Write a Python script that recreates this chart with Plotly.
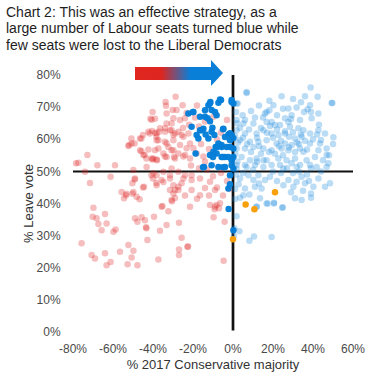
import base64
import plotly.graph_objects as go

# ---------------- data ----------------
TITLE_LINES = [
    "Chart 2: This was an effective strategy, as a",
    "large number of Labour seats turned blue while",
    "few seats were lost to the Liberal Democrats",
]
X_TITLE = "% 2017 Conservative majority"
Y_TITLE = "% Leave vote"
X_TICKS = [-80, -60, -40, -20, 0, 20, 40, 60]
X_TICK_LABELS = ["-80%", "-60%", "-40%", "-20%", "0%", "20%", "40%", "60%"]
Y_TICKS = [0, 10, 20, 30, 40, 50, 60, 70, 80]
Y_TICK_LABELS = ["0%", "10%", "20%", "30%", "40%", "50%", "60%", "70%", "80%"]
LEAVE_SPLIT = 50
MAJORITY_SPLIT = 0

# Labour-held seats (faint red)
lab_x = [-28.7, -33.7, -33.5, -30.2, -40.2, -25.2, -29.8, -40.7, -33.2, -42.3, -39, -34, -30.7, -29, -25.7,
         -46.5, -50.7, -52.3, -38.2, -34, -29.8, -26.5, -46.5, -42.3, -37.3, -32.3, -29.8, -44.8, -40.7, -38.2,
         -33.2, -29.5, -24, -72.8, -77.3, -78.5, -67.8, -59, -49.8, -43.2, -39.8, -34.8, -30.7, -27.3, -74,
         -61.2, -49, -71.5, -44.5, -55.7, -53.5, -49.8, -48.2, -38.2, -35.7, -31.5, -31.5, -29.8, -27.3, -25.7,
         -24, -35.7, -30.7, -29, -69.8,
         -70.2, -68.2, -64, -67.3, -63.2, -65.7, -59.8, -58.7, -75.7, -70.7, -69, -64, -61.2, -63.2, -56.5,
         -52.3, -49.8, -50.7, -52.7, -47.8, -49, -47.8, -45.7, -44, -43.5, -43.3, -39.5, -42.8, -36.5, -33.2,
         -35.3, -32.3, -37.3, -30.5, -27, -25.7, -27, -27, -22.8, -22.5, -8.3, -9.2, -7, -9.7, -4.2, -4.7, -9.0,
         -33.2, -28.2, -23.2, -39, -30.7, -26.5, -40.5, -38.2, -36.5, -34, -31.5, -29.8, -27.3, -24.8, -22.3,
         -37.3, -33.2, -23.2, -39, -34.8, -30.7, -27.3, -21.5, -19.8, -18.2, -39.8, -34, -29, -24.8, -21.5,
         -14.8, -14, -38.2, -31.5, -24.8, -20.7, -16.5, -34.8, -29.8, -27.3, -29, -20.7, -16.5, -11.5, -9,
         -6.5, -21.5, -11.5, -9.8, -20.7,
         -41.3, -37, -38.3, -41.7, -45, -50.8, -45.8, -49.2, -52, -45.8, -44.2, -43.3, -40.3, -38, -49.2,
         -50.3, -45, -53.3, -50.3, -54.5, -46.7, -40, -40.8, -38.3,
         -18, -14, -17, -8, -12, -6, -3, -16, -22, -19, -24, -25, -21, -17, -13, -10, -6, -3, -8, -14, -12,
         -18, -24, -5, -2]
lab_y = [73.2, 71.6, 70.4, 69.1, 68.5, 70.6, 66.5, 66.1, 64.9, 62.3, 62, 63.4, 62.8, 61.8, 61.3,
         60.2, 58.7, 57.9, 59.7, 59.2, 59.7, 58.2, 56.6, 56.8, 57.1, 57.6, 56.6, 55.1, 54.0, 53.7,
         54.5, 54.5, 55.1, 55.1, 52.7, 52.5, 51.9, 51.9, 50.4, 51.4, 49.4, 49.9, 50.9, 49.9, 49.9,
         48.3, 47.8, 46.4, 45.2, 43.6, 42.6, 43.6, 42.1, 45.7, 47.3, 47.8, 44.2, 43.1, 44.2, 46.3,
         48.8, 39, 41.1, 41.7, 38.7,
         35.9, 35.4, 36.7, 33.6, 33.8, 31.7, 31.2, 31.9, 27.6, 24, 22.9, 24.5, 21.8, 20.8, 25,
         27.1, 25.3, 23.2, 21.1, 20.8, 35.4, 34.3, 35.7, 34.8, 32.6, 32.3, 35.9, 28.6, 31.5, 33.3,
         39.2, 37.6, 22.6, 40.7, 34, 29.3, 25.7, 24, 26.5, 26.6, 39.5, 38.2, 38.5, 35.7, 34.3, 22.2, 39.0,
         68.0, 69.1, 68.2, 66.4, 64.9, 66.0, 62.6, 61.8, 63.4, 62.3, 62.8, 61.3, 62.3, 60.8, 61.8,
         59.7, 58.7, 57.2, 56.6, 55.6, 56.6, 55.6, 58.7, 57.2, 55.6, 54, 54.6, 54, 54.6, 54,
         54.6, 53, 48.8, 48.8, 47.8, 47.3, 47.8, 46.7, 45.7, 45.2, 44.2, 44.2, 42.6, 46.8, 44.2,
         40.1, 39.0, 39.5, 67, 48.8,
         66.4, 62.3, 60.8, 61.8, 61.3, 60.2, 60.2, 58.7, 58.2, 56.3, 55.1, 54, 53.7, 53.5, 47.5,
         46.3, 45, 43, 43, 41.6, 41.3, 47.8, 48.8, 46.4,
         70.5, 65.5, 64, 60, 57, 62, 66, 58.5, 64.5, 66.8, 66.5, 63.5, 51.8, 51, 50.5, 48.5, 49.5, 47, 45, 44.8, 42.5,
         41.5, 42.5, 42.5, 44.5]

# Conservative-held seats (faint blue)
con_x = [38.8, 24.3, 36, 42.3, 6.8, 49.7, 18.2, 20.2, 27.7, 31.8, 38.5, 37.3, 35.5, 42.7, 1.8, 4.8, 16.8, 16,
         18.2, 11, 29.3, 26, 33.5, 39.3, 1.8, 5.2, 10.2, 16.8, 19.3, 18.5, 21, 23.5, 27.7, 28.5, 32.7, 35.2,
         38.5, 42.7, 46, 50.2, 1.8, 6, 11.8, 15.2, 19.3, 22.7, 26, 31, 34.3, 3.5, 8.5, 12.7, 16.8, 21.8, 26,
         29.3, 38.5, 43.5, 1.8, 6, 10.2, 15.2, 19.3, 24.3, 27.7, 33.5, 35.2, 42.7, 46.8, 46.8, 4.3, 8.5, 11.8,
         16.8, 22.7, 26.8, 31, 36.8, 41, 1.8, 6, 11, 19.3, 23.5, 29.3, 33.5, 38.5, 47.7, 15.2,
         1.8, 6.8, 15.2, 25.2, 31.8, 41.8, 46.8, 3.5, 7.7, 10.2, 12.7, 16, 18.5, 6, 11, 14.3, 25.2, 27.7, 30.2,
         31.8, 34.3, 36, 40.2, 42.7, 46, 48.5, 31, 34.3, 39, 39, 5.2, 3.5, 1, 8.2, 13.5, 16.8, 20.5, 24.7, 11.8,
         3.2, 10.5, 8.2, 19.3, 0.5, 6.8, 2.3, 49.3, 17.3, 20.5, 24.8, 11.8, 0.7,
         1.5, 2, 1, 2.5, 1.2, 2.2, 1.5, 2.8, 1, 1.8,
         14, 17, 20, 22, 24, 26, 28, 30, 32, 34, 36, 13, 18, 21, 23, 25, 28, 31, 33, 37, 40, 42, 44, 12, 14,
         9, 7, 5, 3.5, 8, 12, 27, 30, 33, 37, 39, 44, 20, 10, 5, 13, 22, 24, 35, 38, 29, 45, 48, 50, 43, 39,
         34, 30, 13, 9, 22, 25, 29, 6, 15]
con_y = [76.1, 73.4, 73.4, 73.2, 74.4, 71.3, 72, 70.6, 69.6, 69.9, 70.6, 69.3, 68.5, 68.0, 71.1, 67.5, 68.5, 68,
         69, 66.8, 67.5, 66.5, 66, 66.5, 66, 64.9, 64.9, 65.4, 65.4, 64.1, 64.4, 64.4, 65.4, 63.9, 63.4, 62.8,
         61.8, 62.8, 61.8, 60.6, 62.8, 61.8, 61.8, 62.8, 61.8, 61.3, 61.8, 60.2, 60.8, 59.7, 59.2, 59.2, 59.7, 58.7, 58.7,
         58.2, 58.7, 58.7, 57.1, 57.1, 57.6, 57.1, 56.6, 57.1, 56.6, 57.1, 56.1, 56.6, 57.1, 55.1, 54.5, 53.5, 54,
         53.5, 54, 53.5, 54, 53.5, 54.5, 52, 52, 52, 52, 52, 52.5, 52, 52, 52.5, 53.5,
         50.9, 51.4, 51.4, 50.9, 51.4, 51.4, 51.4, 47.8, 48.8, 47.3, 48.8, 47.3, 48.3, 44.7, 45.2, 44.7, 45.7, 47.3, 45.2,
         46.8, 48.3, 46.3, 45.2, 47.8, 45.2, 46.3, 41.6, 41.1, 43.1, 41.8, 42.6, 41.8, 41.4, 42.8, 41.6, 40, 40, 38.7, 39,
         31.4, 29.7, 28.4, 29.6, 30, 74.7, 71.1, 71.3, 40, 40.2, 38.8, 39, 32.3,
         68.5, 65, 61, 59, 55.5, 53, 49, 46, 44.5, 36,
         63.5, 62, 60.5, 63, 59.5, 62.5, 60.8, 62.2, 59, 61.5, 59.5, 57.8, 56, 55.5, 57.8, 55, 57.5, 56, 58.5, 56.8, 60, 61.5, 59.8, 53, 55.5,
         56, 58.5, 60.5, 63.5, 63, 60.5, 51, 49.5, 50, 49, 51, 50, 50, 50.5, 49.5, 46.2, 47, 49.5, 44, 47, 43.5, 53.5, 55, 58.5, 64.5, 68.5,
         71.5, 72.5, 70.5, 68.8, 67.5, 69.5, 66.3, 66, 66.8]

# Labour seats turned Conservative (solid blue)
flip_x = [-6, -7.3, -11.3, -12.3, -10.7, -9, -8.2, -14, -12.7, -11.5, -16.5, -19.8, -22.3, -20.7, -16.5, -14.8,
          -13.7, -10.3, -9.3, -12.3, -18.2, -17.3, -4.8, -0.7, 0.2, -2.3, -0.7, -1.5, 0.2, -4, -7.3, -8.7, -5.7,
          -3.2, -1.5, 0.2, -9.8, -11.5, -8.2, -5.7, -4, -2.3, 0.2, -18.7, -10.7, -14.5, -7.3, -4, -0.7, 0.2,
          -1.5, -2.3, 0.2, -2.2, -0.7, -1.5, -0.7, -1.5, -6.5, -11.5, -20, -14, -5, -10.7, -15.7, -5.7, -8.2,
          -10, -5, -15, -5]
flip_y = [72.2, 71.4, 71.6, 70.6, 69.1, 68.5, 67.5, 67.0, 66.5, 65.6, 67.0, 68.5, 68.0, 63.9, 62.8, 63.3,
          61.5, 63.6, 61.3, 60.2, 61.3, 60.2, 63.3, 72.2, 71.1, 61.5, 61.3, 59.7, 60.4, 60.7, 58.7, 57.6, 57.6,
          57.6, 57.6, 57.1, 56.1, 55.1, 55.6, 54.5, 54.5, 54.5, 54.5, 55.6, 51.9, 51.4, 51.4, 51.4, 51.9, 50.9,
          48.8, 44.7, 31.7, 38.3, 71.6, 61.9, 53.5, 46, 72.4, 71.2, 68.5, 69, 63.1, 62.3, 62.8, 58.2, 57.5,
          54.5, 54.5, 51.3, 51.3]

# Conservative seats lost to the Liberal Democrats (orange)
ld_x = [21, 6.3, 10.7, 0]
ld_y = [43.5, 39.7, 38.2, 28.9]

# ---------------- styling ----------------
RED_FAINT = "rgba(222,38,38,0.30)"
BLUE_FAINT = "rgba(10,128,220,0.28)"
BLUE_SOLID = "rgba(4,126,216,0.97)"
ORANGE = "rgba(247,160,12,1)"
FONT = "Liberation Sans, Arial, Helvetica, sans-serif"

fig = go.Figure()
fig.add_trace(go.Scatter(x=lab_x, y=lab_y, mode="markers", name="Labour",
                         marker=dict(size=6.5, color=RED_FAINT, line=dict(width=0))))
fig.add_trace(go.Scatter(x=con_x, y=con_y, mode="markers", name="Conservative",
                         marker=dict(size=6.5, color=BLUE_FAINT, line=dict(width=0))))
fig.add_trace(go.Scatter(x=flip_x, y=flip_y, mode="markers", name="Labour to Conservative",
                         marker=dict(size=6.5, color=BLUE_SOLID, line=dict(width=0))))
fig.add_trace(go.Scatter(x=ld_x, y=ld_y, mode="markers", name="Conservative to Lib Dem",
                         marker=dict(size=6.5, color=ORANGE, line=dict(width=0))))

# reference lines
fig.add_shape(type="line", xref="x", yref="y", x0=X_TICKS[0], x1=X_TICKS[-1],
              y0=LEAVE_SPLIT, y1=LEAVE_SPLIT, line=dict(color="#111111", width=2), layer="below")
fig.add_shape(type="line", xref="x", yref="y", x0=MAJORITY_SPLIT, x1=MAJORITY_SPLIT,
              y0=Y_TICKS[0] + 0.5, y1=Y_TICKS[-1] + 0.6, line=dict(color="#111111", width=2.7), layer="below")

# gradient arrow (red -> blue) as an inline SVG
svg = (
    '<svg xmlns="http://www.w3.org/2000/svg" width="88" height="26" viewBox="0 0 88 26">'
    '<defs><linearGradient id="g" x1="0" y1="0" x2="1" y2="0">'
    '<stop offset="0" stop-color="#e0261f"/><stop offset="0.30" stop-color="#de2620"/>'
    '<stop offset="0.63" stop-color="#0a7fd8"/><stop offset="1" stop-color="#0a7fd8"/>'
    '</linearGradient></defs>'
    '<path d="M0 7 L76 7 L76 0 L88 13 L76 26 L76 20 L0 20 Z" fill="url(#g)"/>'
    '</svg>'
)
src = "data:image/svg+xml;base64," + base64.b64encode(svg.encode()).decode()
fig.add_layout_image(dict(source=src, xref="paper", yref="paper", x=0.2214, y=1.0584,
                          sizex=0.3143, sizey=0.1012, xanchor="left", yanchor="top",
                          sizing="stretch", layer="above"))

# title (three lines, left aligned)
for i, line in enumerate(TITLE_LINES):
    fig.add_annotation(text=line, xref="paper", yref="paper", x=-0.246, y=1.245 - i * 0.064,
                       xanchor="left", yanchor="middle", showarrow=False,
                       font=dict(family=FONT, size=14, color="#1e1e1e"))

fig.update_layout(
    width=381, height=390,
    margin=dict(l=73, r=28, t=75, b=58),
    paper_bgcolor="white", plot_bgcolor="white",
    showlegend=False,
    font=dict(family=FONT, color="#444444"),
    xaxis=dict(range=[X_TICKS[0], X_TICKS[-1]], tickvals=X_TICKS, ticktext=X_TICK_LABELS,
               showgrid=False, zeroline=False, showline=False,
               ticks="outside", ticklen=6, tickcolor="rgba(0,0,0,0)",
               tickfont=dict(size=12, color="#4a4a4a"),
               title=dict(text=X_TITLE, font=dict(size=13, color="#333333"), standoff=4)),
    yaxis=dict(range=[Y_TICKS[0], Y_TICKS[-1]], tickvals=Y_TICKS, ticktext=Y_TICK_LABELS,
               showgrid=False, zeroline=False, showline=False,
               ticks="outside", ticklen=9, tickcolor="rgba(0,0,0,0)",
               tickfont=dict(size=12, color="#4a4a4a"),
               title=dict(text=Y_TITLE, font=dict(size=13, color="#333333"), standoff=0)),
)

# remove the browser's default 8px page margin so the figure fills the window exactly
fig.write_html("out.html", config={"displayModeBar": False},
               post_script="document.body.style.margin='0';")
